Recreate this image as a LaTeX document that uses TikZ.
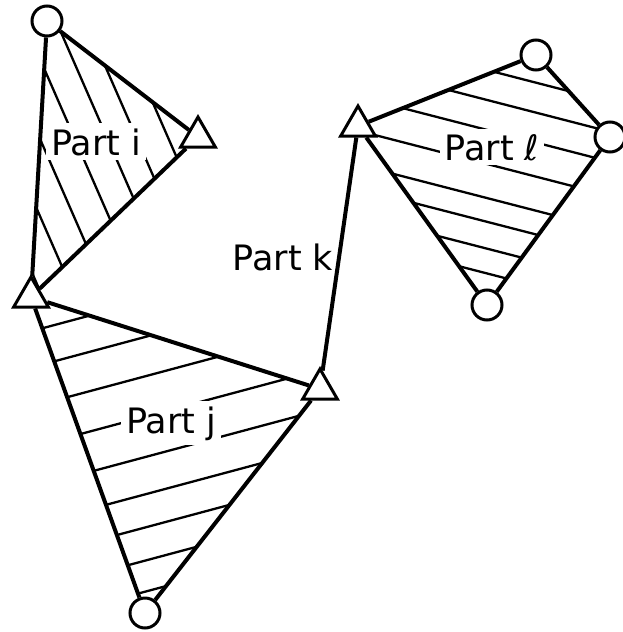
\documentclass[tikz,border=0pt]{standalone}
\usepackage{fontspec}
\setsansfont{DejaVu Sans}
\usetikzlibrary{shapes.geometric}
\pgfdeclarelayer{back}
\pgfsetlayers{back,main}

\begin{document}
\begin{tikzpicture}[
    x=1pt, y=-1pt,
    hinge/.style={circle, draw, fill=white, line width=3pt, minimum size=30pt, inner sep=0pt},
    pivot/.style={regular polygon, regular polygon sides=3, draw, fill=white, line width=3pt, minimum size=40pt, inner sep=0pt},
    link/.style={line width=4pt},
    hatch/.style={line width=2.3pt},
    partlabel/.style={font=\sffamily\fontsize{35}{40}\selectfont, fill=white, inner sep=5pt, anchor=base}
  ]
    \useasboundingbox (0,0) rectangle (623,632);

    % Joints
    \node[hinge] (itop) at (47,21) {};
    \node[pivot] (iright) at (198,137) {};
    \node[pivot] (ij) at (31,297) {};
    \node[pivot] (jk) at (320,389) {};
    \node[hinge] (jbot) at (145,613) {};
    \node[pivot] (kl) at (358,126) {};
    \node[hinge] (ltop) at (536,55) {};
    \node[hinge] (lright) at (610,137) {};
    \node[hinge] (lbot) at (487,305) {};

    % Links
    \draw[link] (itop) -- (iright) -- (ij) -- (itop);
    \draw[link] (ij) -- (jk) -- (jbot) -- (ij);
    \draw[link] (jk) -- (kl);
    \draw[link] (kl) -- (ltop) -- (lright) -- (lbot) -- (kl);

    % Hatching and labels, behind the joints
    \begin{pgfonlayer}{back}
      \begin{scope}
        \clip (itop.center) -- (iright.center) -- (ij.center) -- cycle;
        \foreach \c in {-80,-50,-19,13,43,70,99}
          \draw[hatch] ({0.915*\c-40},{-0.40*\c-91.5}) -- ({0.915*\c+280},{-0.40*\c+640.5});
      \end{scope}
      \begin{scope}
        \clip (ij.center) -- (jk.center) -- (jbot.center) -- cycle;
        \foreach \c in {328,363,401,440,479,515,547,579,609}
          \draw[hatch] ({0.259*\c-193.2},{0.966*\c+51.8}) -- ({0.259*\c+386.4},{0.966*\c-103.6});
      \end{scope}
      \begin{scope}
        \clip (kl.center) -- (ltop.center) -- (lright.center) -- (lbot.center) -- cycle;
        \foreach \c in {-54,-25,4,37,70,93,119,143}
          \draw[hatch] ({-0.25*\c+193.6},{0.968*\c+50}) -- ({-0.25*\c+774.4},{0.968*\c+200});
      \end{scope}

      \node[partlabel] (labi) at (96,155) {Part i};
      \node[partlabel] (labj) at (171,433) {Part j};
      \node[partlabel, fill=none] (labk) at (283,270) {Part k};
      \node[partlabel] (labl) at (492,160) {Part ℓ};
    \end{pgfonlayer}

\end{tikzpicture}
\end{document}
